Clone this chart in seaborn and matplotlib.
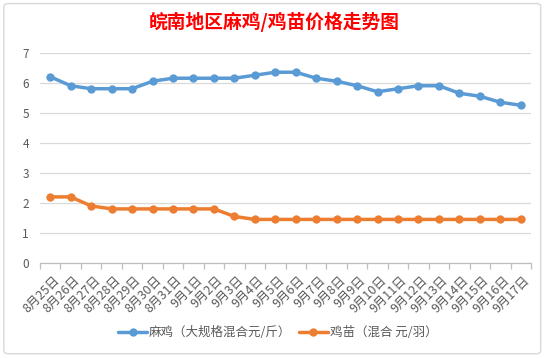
"""
皖南地区麻鸡/鸡苗价格走势图 - line chart recreation.
"""

import pandas as pd
import matplotlib
matplotlib.use("Agg")
import matplotlib.pyplot as plt
import matplotlib.transforms as mtransforms
from matplotlib.patches import FancyBboxPatch
from matplotlib.ticker import FixedLocator
import seaborn as sns

# Data
dates = ["8月25日", "8月26日", "8月27日", "8月28日", "8月29日", "8月30日", "8月31日",
         "9月1日", "9月2日", "9月3日", "9月4日", "9月5日", "9月6日", "9月7日",
         "9月8日", "9月9日", "9月10日", "9月11日", "9月12日", "9月13日",
         "9月14日", "9月15日", "9月16日", "9月17日"]
mj_price = [6.2, 5.9, 5.8, 5.8, 5.8, 6.05, 6.15, 6.15, 6.15, 6.15, 6.25, 6.35,
            6.35, 6.15, 6.05, 5.9, 5.7, 5.8, 5.9, 5.9, 5.65, 5.55, 5.35, 5.25]
jm_price = [2.2, 2.2, 1.9, 1.8, 1.8, 1.8, 1.8, 1.8, 1.8, 1.55, 1.45, 1.45,
            1.45, 1.45, 1.45, 1.45, 1.45, 1.45, 1.45, 1.45, 1.45, 1.45, 1.45, 1.45]
series_names = ["麻鸡（大规格混合元/斤）", "鸡苗（混合 元/羽）"]
series_colors = ["#5B9BD5", "#ED7D31"]

df = pd.DataFrame({
    "date": dates * 2,
    "price": mj_price + jm_price,
    "series": [series_names[0]] * len(dates) + [series_names[1]] * len(dates),
})

sns.set_theme(style="white")
plt.rcParams["font.family"] = ["Noto Sans CJK SC", "DejaVu Sans"]

fig = plt.figure(figsize=(5.5, 3.58), dpi=100)
ax = fig.add_axes([0.0727, 0.2654, 0.8928, 0.5874])

# Chart border
fig.patches.append(FancyBboxPatch((0.007, 0.012), 0.976, 0.978,
                                  boxstyle="round,pad=0,rounding_size=0.008",
                                  transform=fig.transFigure, fill=False,
                                  edgecolor="#D9D9D9", linewidth=1.0))

sns.lineplot(data=df, x="date", y="price", hue="series", palette=series_colors,
             marker="o", markersize=6, markeredgewidth=0, linewidth=2.5,
             sort=False, legend=True, ax=ax)

ax.set_xlim(-0.5, len(dates) - 0.5)
ax.set_ylim(0, 7)
ax.set_yticks(range(0, 8))
ax.grid(axis="y", color="#D9D9D9", linewidth=0.9)
ax.set_axisbelow(True)
ax.set_xlabel("")
ax.set_ylabel("")

for side in ["left", "right", "top"]:
    ax.spines[side].set_visible(False)
ax.spines["bottom"].set_color("#BFBFBF")
ax.spines["bottom"].set_linewidth(0.9)

ax.xaxis.set_minor_locator(FixedLocator([i - 0.5 for i in range(len(dates) + 1)]))
ax.tick_params(axis="x", which="minor", length=4, color="#BFBFBF", width=0.9, bottom=True)
ax.tick_params(axis="x", which="major", length=0, pad=11, labelsize=9, labelcolor="#595959")
ax.tick_params(axis="y", length=0, pad=8, labelsize=8.5, labelcolor="#595959")
shift = mtransforms.ScaledTranslation(0.07, 0, fig.dpi_scale_trans)
for lbl in ax.get_xticklabels():
    lbl.set_rotation(45)
    lbl.set_ha("right")
    lbl.set_va("center")
    lbl.set_rotation_mode("anchor")
    lbl.set_transform(lbl.get_transform() + shift)

handles, labels = ax.get_legend_handles_labels()
ax.get_legend().remove()
fig.legend(handles, labels, loc="center", bbox_to_anchor=(0.505, 0.07), ncol=2,
           frameon=False, fontsize=9, handlelength=2.3, columnspacing=0.6,
           handletextpad=0.15, labelcolor="#595959")

fig.text(0.499, 1 - 22 / 358, "皖南地区麻鸡/鸡苗价格走势图", ha="center", va="center",
         color="#FF0000", fontsize=13.5, fontweight="bold")

fig.savefig("out.png", dpi=100)
